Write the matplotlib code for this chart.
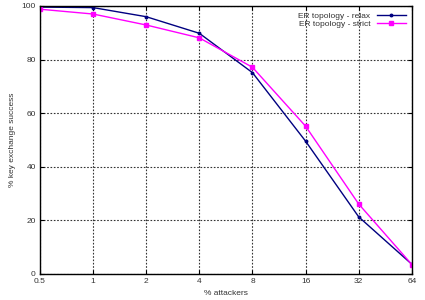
import numpy as np
import matplotlib
matplotlib.use("Agg")
import matplotlib.pyplot as plt

plt.rcParams["font.family"] = ["Liberation Sans", "DejaVu Sans"]

attackers = [0.5, 1, 2, 4, 8, 16, 32, 64]
tick_labels = ["0.5", "1", "2", "4", "8", "16", "32", "64"]
relax = [99.6, 99.4, 96.0, 89.8, 75.1, 49.5, 21.2, 3.5]
strict = [98.8, 97.0, 92.9, 88.1, 77.1, 55.1, 26.0, 3.4]

fig = plt.figure(figsize=(4.25, 3.0), dpi=100)
ax = fig.add_axes([0.094, 0.088, 0.875, 0.892])

ax.plot(attackers, relax, color="#000080", lw=1.0, marker="o", ms=1.8,
        label="ER topology - relax")
ax.plot(attackers, strict, color="#ff00ff", lw=1.0, marker="s", ms=2.2,
        label="ER topology - strict")

ax.set_xscale("log", base=2)
ax.set_xlim(0.5, 64)
ax.set_ylim(0, 100)
ax.set_xticks(attackers)
ax.set_xticklabels(tick_labels)
ax.minorticks_off()
ax.set_yticks([0, 20, 40, 60, 80, 100])

ax.grid(True, color="#333333", linestyle=(0, (1.5, 1.5)), linewidth=0.8)
ax.tick_params(direction="in", top=True, right=True, labelsize=6,
               length=3, pad=3, labelcolor="#333333")
for s in ax.spines.values():
    s.set_linewidth(1.0)

ax.set_xlabel("% attackers", fontsize=6, labelpad=4, color="#333333")
ax.set_ylabel("% key exchange success", fontsize=6, labelpad=4, color="#333333")

leg = ax.legend(loc="upper right", frameon=False, fontsize=6, markerfirst=False,
                handlelength=3.5, borderaxespad=0.3, labelspacing=0.1,
                handletextpad=0.8)
for t in leg.get_texts():
    t.set_color("#333333")

fig.savefig("out.png", dpi=100)
